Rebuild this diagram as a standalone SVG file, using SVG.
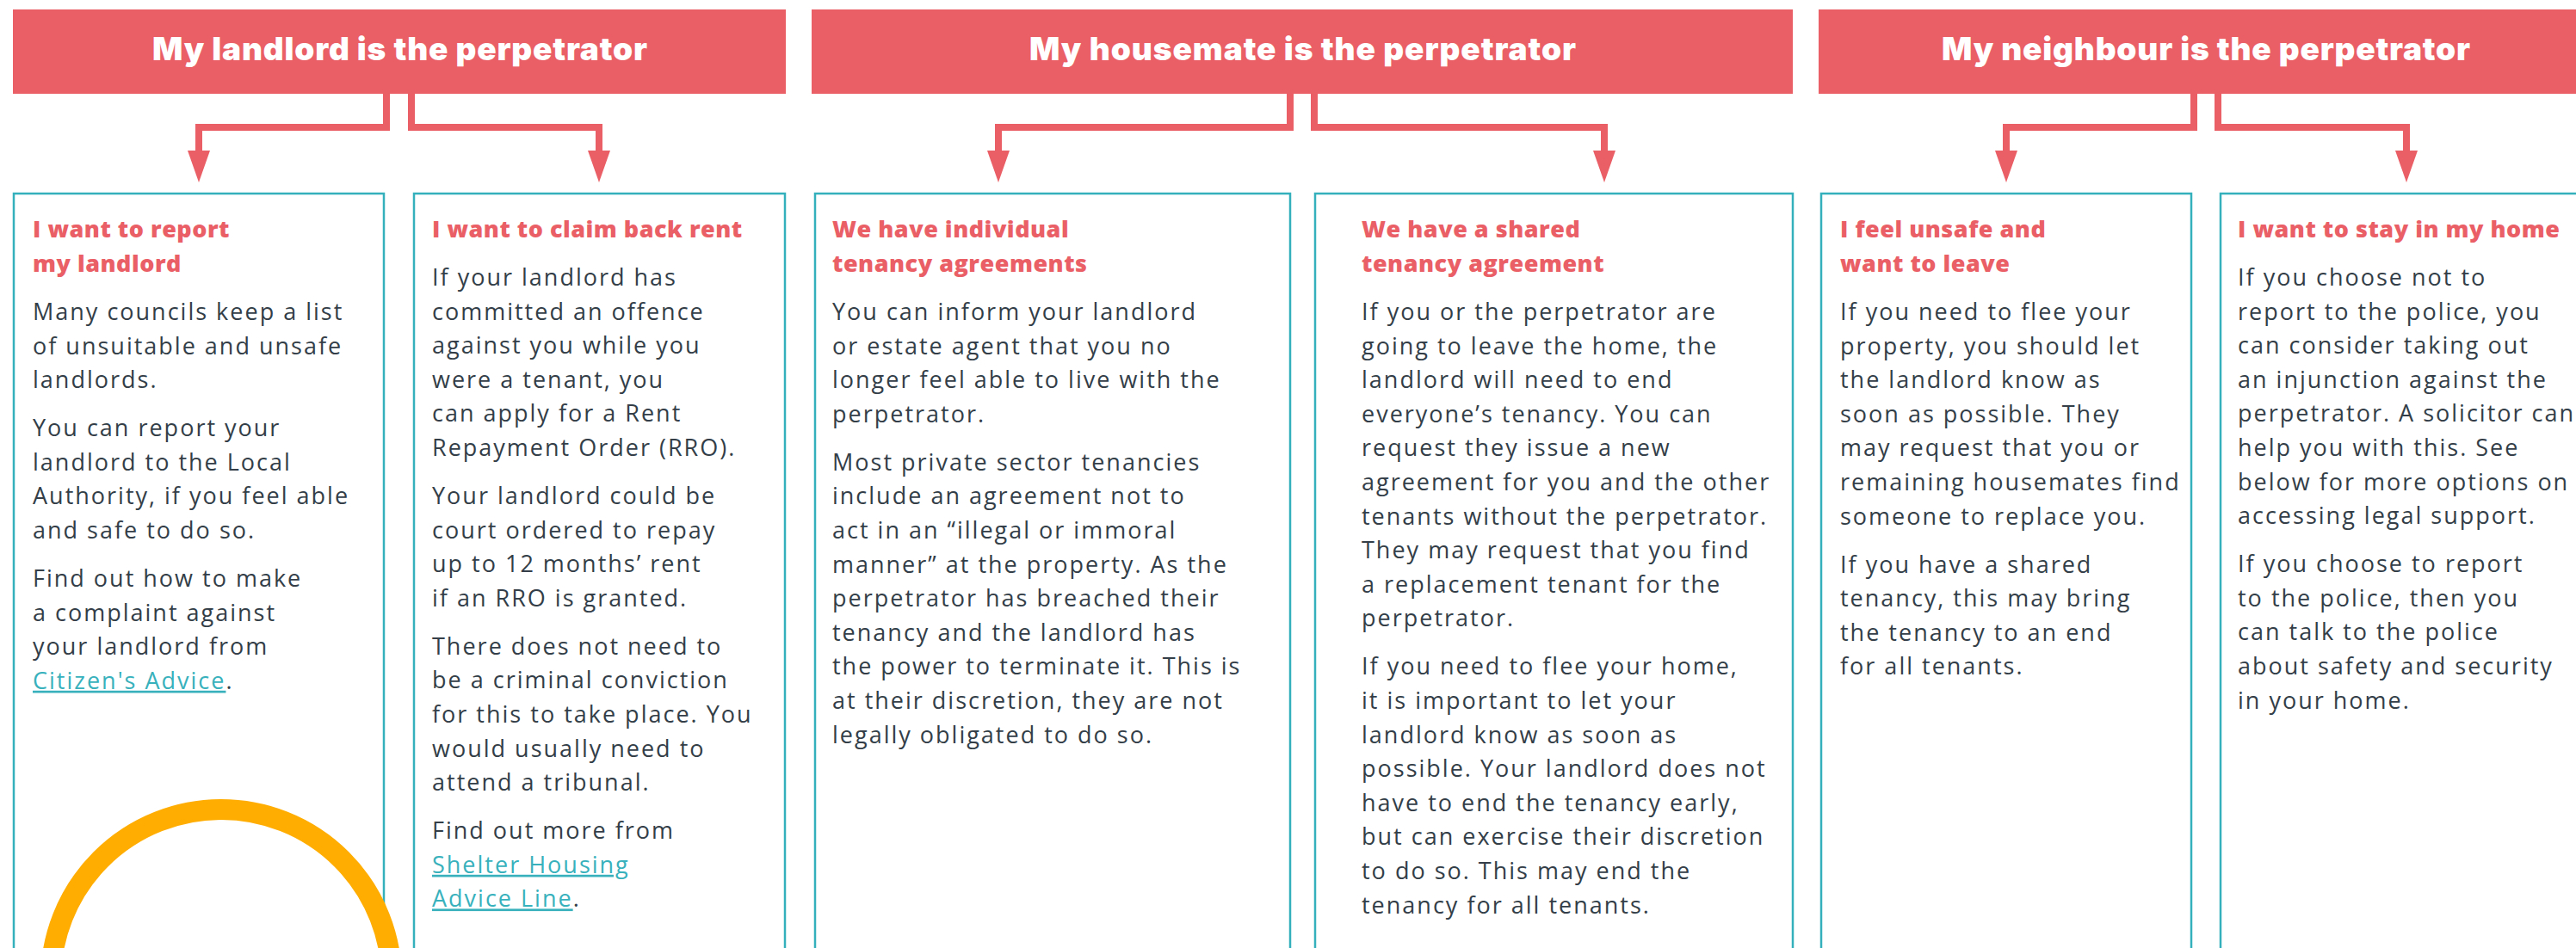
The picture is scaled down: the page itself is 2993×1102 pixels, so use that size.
<svg xmlns="http://www.w3.org/2000/svg" width="2993" height="1102" viewBox="0 0 2993 1102">
<defs>
<style>
.hdr{fill:#ea5e66}
.htxt{font-family:Inter,"Liberation Sans",sans-serif;font-weight:900;font-size:37px;fill:#ffffff}
.card{fill:#ffffff;stroke:#33b0bc;stroke-width:2.5}
.title{font-family:"Open Sans","Liberation Sans",sans-serif;font-weight:800;font-size:27px;fill:#ea5e66;letter-spacing:0.5px}
.body{font-family:"Open Sans","Liberation Sans",sans-serif;font-weight:400;font-size:27px;fill:#333e48;letter-spacing:2px}
.link{fill:#38b1bd;text-decoration:underline}
.conn{fill:none;stroke:#ea5e66;stroke-width:8;stroke-linejoin:miter;marker-end:url(#arrow)}
.ring{fill:none;stroke:#ffad00;stroke-width:24}
</style>
<marker id="arrow" viewBox="0 -13 37 26" markerWidth="37" markerHeight="26" refX="0" refY="0" orient="auto" markerUnits="userSpaceOnUse">
<path d="M0,-13 L37,0 L0,13 Z" fill="#ea5e66"/>
</marker>
</defs>
<rect width="2993" height="1102" fill="#ffffff"/>

<g id="header-landlord">
<rect class="hdr" x="15" y="11" width="898" height="98"/>
<text class="htxt" x="177" y="70" textLength="575" lengthAdjust="spacing">My landlord is the perpetrator</text>
</g>
<g id="header-housemate">
<rect class="hdr" x="943" y="11" width="1140" height="98"/>
<text class="htxt" x="1196" y="70" textLength="635" lengthAdjust="spacing">My housemate is the perpetrator</text>
</g>
<g id="header-neighbour">
<rect class="hdr" x="2113" y="11" width="898" height="98"/>
<text class="htxt" x="2256" y="70" textLength="614" lengthAdjust="spacing">My neighbour is the perpetrator</text>
</g>

<g id="connectors">
<polyline class="conn" points="449,109 449,148 231,148 231,175"/>
<polyline class="conn" points="478,109 478,148 696,148 696,175"/>
<polyline class="conn" points="1499,109 1499,148 1160,148 1160,175"/>
<polyline class="conn" points="1527,109 1527,148 1864,148 1864,175"/>
<polyline class="conn" points="2549,109 2549,148 2331,148 2331,175"/>
<polyline class="conn" points="2577,109 2577,148 2796,148 2796,175"/>
</g>

<g id="card-report-landlord">
<rect class="card" x="16" y="225" width="430" height="900"/>
<text class="title"><tspan x="38" y="276">I want to report</tspan><tspan x="38" y="316">my landlord</tspan></text>
<text class="body">
<tspan x="38" y="372">Many councils keep a list</tspan>
<tspan x="38" y="411.6">of unsuitable and unsafe</tspan>
<tspan x="38" y="451.2">landlords.</tspan>
<tspan x="38" y="507.2">You can report your</tspan>
<tspan x="38" y="546.8">landlord to the Local</tspan>
<tspan x="38" y="586.4">Authority, if you feel able</tspan>
<tspan x="38" y="626">and safe to do so.</tspan>
<tspan x="38" y="682">Find out how to make</tspan>
<tspan x="38" y="721.6">a complaint against</tspan>
<tspan x="38" y="761.2">your landlord from</tspan>
<tspan x="38" y="800.8"><tspan class="link">Citizen's Advice</tspan>.</tspan>
</text>
</g>

<g id="card-claim-rent">
<rect class="card" x="481" y="225" width="431" height="900"/>
<text class="title"><tspan x="502" y="276">I want to claim back rent</tspan></text>
<text class="body">
<tspan x="502" y="332">If your landlord has</tspan>
<tspan x="502" y="371.6">committed an offence</tspan>
<tspan x="502" y="411.2">against you while you</tspan>
<tspan x="502" y="450.8">were a tenant, you</tspan>
<tspan x="502" y="490.4">can apply for a Rent</tspan>
<tspan x="502" y="530">Repayment Order (RRO).</tspan>
<tspan x="502" y="586">Your landlord could be</tspan>
<tspan x="502" y="625.6">court ordered to repay</tspan>
<tspan x="502" y="665.2">up to 12 months’ rent</tspan>
<tspan x="502" y="704.8">if an RRO is granted.</tspan>
<tspan x="502" y="760.8">There does not need to</tspan>
<tspan x="502" y="800.4">be a criminal conviction</tspan>
<tspan x="502" y="840">for this to take place. You</tspan>
<tspan x="502" y="879.6">would usually need to</tspan>
<tspan x="502" y="919.2">attend a tribunal.</tspan>
<tspan x="502" y="975.2">Find out more from</tspan>
<tspan x="502" y="1014.8" class="link">Shelter Housing</tspan>
<tspan x="502" y="1054.4"><tspan class="link">Advice Line</tspan>.</tspan>
</text>
</g>

<g id="card-individual-tenancy">
<rect class="card" x="947" y="225" width="552" height="900"/>
<text class="title"><tspan x="967" y="276">We have individual</tspan><tspan x="967" y="316">tenancy agreements</tspan></text>
<text class="body">
<tspan x="967" y="372">You can inform your landlord</tspan>
<tspan x="967" y="411.6">or estate agent that you no</tspan>
<tspan x="967" y="451.2">longer feel able to live with the</tspan>
<tspan x="967" y="490.8">perpetrator.</tspan>
<tspan x="967" y="546.8">Most private sector tenancies</tspan>
<tspan x="967" y="586.4">include an agreement not to</tspan>
<tspan x="967" y="626">act in an “illegal or immoral</tspan>
<tspan x="967" y="665.6">manner” at the property. As the</tspan>
<tspan x="967" y="705.2">perpetrator has breached their</tspan>
<tspan x="967" y="744.8">tenancy and the landlord has</tspan>
<tspan x="967" y="784.4">the power to terminate it. This is</tspan>
<tspan x="967" y="824">at their discretion, they are not</tspan>
<tspan x="967" y="863.6">legally obligated to do so.</tspan>
</text>
</g>

<g id="card-shared-tenancy">
<rect class="card" x="1528" y="225" width="555" height="900"/>
<text class="title"><tspan x="1582" y="276">We have a shared</tspan><tspan x="1582" y="316">tenancy agreement</tspan></text>
<text class="body">
<tspan x="1582" y="372">If you or the perpetrator are</tspan>
<tspan x="1582" y="411.6">going to leave the home, the</tspan>
<tspan x="1582" y="451.2">landlord will need to end</tspan>
<tspan x="1582" y="490.8">everyone’s tenancy. You can</tspan>
<tspan x="1582" y="530.4">request they issue a new</tspan>
<tspan x="1582" y="570">agreement for you and the other</tspan>
<tspan x="1582" y="609.6">tenants without the perpetrator.</tspan>
<tspan x="1582" y="649.2">They may request that you find</tspan>
<tspan x="1582" y="688.8">a replacement tenant for the</tspan>
<tspan x="1582" y="728.4">perpetrator.</tspan>
<tspan x="1582" y="784.4">If you need to flee your home,</tspan>
<tspan x="1582" y="824">it is important to let your</tspan>
<tspan x="1582" y="863.6">landlord know as soon as</tspan>
<tspan x="1582" y="903.2">possible. Your landlord does not</tspan>
<tspan x="1582" y="942.8">have to end the tenancy early,</tspan>
<tspan x="1582" y="982.4">but can exercise their discretion</tspan>
<tspan x="1582" y="1022">to do so. This may end the</tspan>
<tspan x="1582" y="1061.6">tenancy for all tenants.</tspan>
</text>
</g>

<g id="card-unsafe-leave">
<rect class="card" x="2116" y="225" width="430" height="900"/>
<text class="title"><tspan x="2138" y="276">I feel unsafe and</tspan><tspan x="2138" y="316">want to leave</tspan></text>
<text class="body">
<tspan x="2138" y="372">If you need to flee your</tspan>
<tspan x="2138" y="411.6">property, you should let</tspan>
<tspan x="2138" y="451.2">the landlord know as</tspan>
<tspan x="2138" y="490.8">soon as possible. They</tspan>
<tspan x="2138" y="530.4">may request that you or</tspan>
<tspan x="2138" y="570">remaining housemates find</tspan>
<tspan x="2138" y="609.6">someone to replace you.</tspan>
<tspan x="2138" y="665.6">If you have a shared</tspan>
<tspan x="2138" y="705.2">tenancy, this may bring</tspan>
<tspan x="2138" y="744.8">the tenancy to an end</tspan>
<tspan x="2138" y="784.4">for all tenants.</tspan>
</text>
</g>

<g id="card-stay-home">
<rect class="card" x="2580" y="225" width="432" height="900"/>
<text class="title"><tspan x="2600" y="276">I want to stay in my home</tspan></text>
<text class="body">
<tspan x="2600" y="332">If you choose not to</tspan>
<tspan x="2600" y="371.6">report to the police, you</tspan>
<tspan x="2600" y="411.2">can consider taking out</tspan>
<tspan x="2600" y="450.8">an injunction against the</tspan>
<tspan x="2600" y="490.4">perpetrator. A solicitor can</tspan>
<tspan x="2600" y="530">help you with this. See</tspan>
<tspan x="2600" y="569.6">below for more options on</tspan>
<tspan x="2600" y="609.2">accessing legal support.</tspan>
<tspan x="2600" y="665.2">If you choose to report</tspan>
<tspan x="2600" y="704.8">to the police, then you</tspan>
<tspan x="2600" y="744.4">can talk to the police</tspan>
<tspan x="2600" y="784">about safety and security</tspan>
<tspan x="2600" y="823.6">in your home.</tspan>
</text>
</g>

<g id="orange-ring">
<circle class="ring" cx="257" cy="1139" r="198"/>
</g>
</svg>
